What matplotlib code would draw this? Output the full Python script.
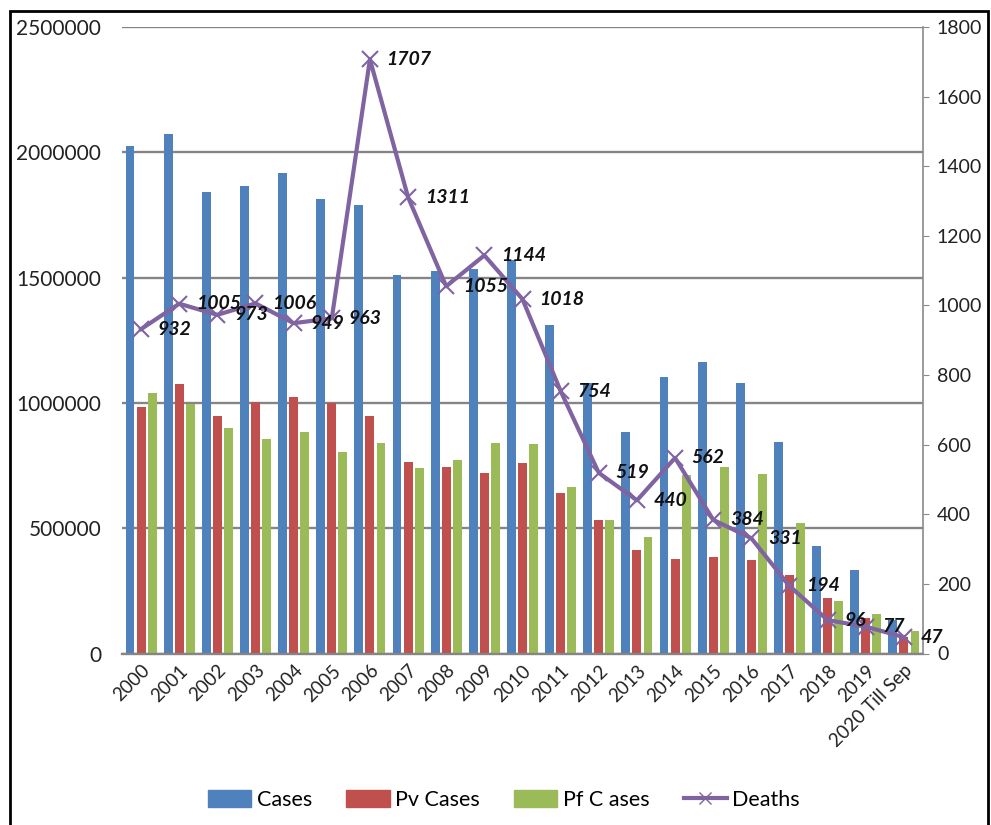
import matplotlib
matplotlib.use("Agg")
import matplotlib.pyplot as plt
import numpy as np
from matplotlib.patches import Rectangle
from matplotlib.lines import Line2D
from matplotlib.patches import Patch

plt.rcParams['font.family'] = ['Lato', 'DejaVu Sans']

years = ['2000', '2001', '2002', '2003', '2004', '2005', '2006', '2007', '2008', '2009',
         '2010', '2011', '2012', '2013', '2014', '2015', '2016', '2017', '2018', '2019',
         '2020 Till Sep']
cases = [2025000, 2075000, 1840000, 1867000, 1918000, 1815000, 1788000, 1512000, 1525000, 1535000,
         1570000, 1312000, 1080000, 883000, 1105000, 1165000, 1081000, 845000, 427000, 334000,
         133000]
pv_cases = [985000, 1076000, 948000, 1005000, 1025000, 1001000, 948000, 765000, 745000, 721000,
            761000, 641000, 532000, 415000, 379000, 385000, 372000, 312000, 223000, 143000,
            65000]
pf_cases = [1041000, 996000, 899000, 856000, 885000, 805000, 839000, 739000, 772000, 839000,
            836000, 665000, 532000, 463000, 712000, 744000, 715000, 521000, 209000, 159000,
            89000]
deaths = [932, 1005, 973, 1006, 949, 963, 1707, 1311, 1055, 1144, 1018, 754, 519, 440, 562,
          384, 331, 194, 96, 77, 47]

blue = '#4F81BD'
red = '#C0504D'
green = '#9BBB59'
purple = '#8064A2'

W, H = 991, 825
fig = plt.figure(figsize=(W / 100, H / 100), dpi=100)
ax = fig.add_axes([122 / W, 1 - 653.5 / H, (923 - 122) / W, (653.5 - 27) / H])

x = np.arange(len(years))
bw = 0.235
off = 0.29
ax.bar(x - off, cases, bw, color=blue, zorder=2)
ax.bar(x, pv_cases, bw, color=red, zorder=2)
ax.bar(x + off, pf_cases, bw, color=green, zorder=2)

ax.set_xlim(-0.5, len(years) - 0.5)
ax.set_ylim(0, 2500000)
ax.set_yticks(np.arange(0, 2500001, 500000))
ax.set_yticklabels([str(v) for v in range(0, 2500001, 500000)], fontsize=15, color='#222222')
ax.yaxis.grid(True, color='#858585', linewidth=1.7, zorder=0)
ax.set_axisbelow(True)
ax.tick_params(axis='y', length=0, pad=15)
ax.set_xticks(x)
ax.set_xticklabels(years, rotation=45, ha='right', rotation_mode='anchor', fontsize=13.5,
                   color='#222222')
ax.tick_params(axis='x', length=0, pad=6)
for s in ['left', 'top', 'right']:
    ax.spines[s].set_visible(False)
ax.spines['bottom'].set_color('#858585')
ax.spines['bottom'].set_linewidth(1.7)

ax2 = ax.twinx()
ax2.plot(x, deaths, color=purple, linewidth=3, marker='x', markersize=11,
         markeredgewidth=1.5, zorder=5)
ax2.set_ylim(0, 1800)
ax2.set_yticks(np.arange(0, 1801, 200))
ax2.set_yticklabels([str(v) for v in range(0, 1801, 200)], fontsize=14, color='#222222')
ax2.tick_params(axis='y', length=4, color='#8a8a8a', pad=6)
for s in ['left', 'top', 'bottom']:
    ax2.spines[s].set_visible(False)
ax2.spines['right'].set_color('#8a8a8a')
ax2.spines['right'].set_linewidth(1.2)

for xi, d in zip(x, deaths):
    ax2.annotate(str(d), (xi, d), xytext=(12, 0), textcoords='offset points',
                 ha='left', va='center', fontsize=14, fontweight='bold', fontstyle='italic',
                 color='#111111', zorder=6)

handles = [Patch(color=blue), Patch(color=red), Patch(color=green),
           Line2D([0], [0], color=purple, linewidth=3, marker='x', markersize=9)]
fig.legend(handles, ['Cases', 'Pv Cases', 'Pf C ases', 'Deaths'], loc='center',
           bbox_to_anchor=(504 / W, 1 - 800 / H), ncol=4, frameon=False, fontsize=15.5,
           handlelength=2.0, handleheight=0.85, handletextpad=0.25, columnspacing=1.6)

fig.patches.append(Rectangle((10 / W, -0.02), (988 - 10) / W, 1.02 - 11 / H,
                             transform=fig.transFigure, fill=False, edgecolor='black',
                             linewidth=2))

fig.savefig('out.png', dpi=100)
